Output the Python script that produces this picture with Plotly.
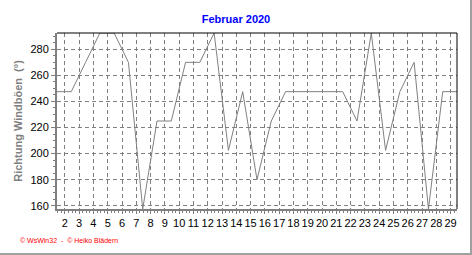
import plotly.graph_objects as go

# ---- data ----
days = list(range(1, 30))
gust_dir = [247.5, 247.5, 270, 292.5, 292.5, 270, 157.5, 225, 225, 270,
            270, 292.5, 202.5, 247.5, 180, 225, 247.5, 247.5, 247.5, 247.5,
            247.5, 225, 292.5, 202.5, 247.5, 270, 157.5, 247.5, 247.5]
tick_days = list(range(2, 30))
tick_labels = [str(d) for d in tick_days]
y_ticks = [160, 180, 200, 220, 240, 260, 280]

FONT = "Liberation Sans, Arial, sans-serif"
GRAY = "#808080"

fig = go.Figure()
fig.add_trace(go.Scatter(
    x=days, y=gust_dir, mode="lines",
    line=dict(color=GRAY, width=1),
    hoverinfo="skip", showlegend=False,
))

fig.update_layout(
    width=472, height=255,
    margin=dict(l=57, r=15, t=33, b=46),
    paper_bgcolor="white", plot_bgcolor="white",
    font=dict(family=FONT, size=11, color="black"),
    title=dict(text="<b>Februar 2020</b>", x=0.5, xref="container",
               y=1 - 19 / 255, yref="container", yanchor="middle", xanchor="center",
               font=dict(family=FONT, size=11, color="#0000ff")),
    showlegend=False,
)

fig.update_xaxes(
    range=[1, 29],
    tickmode="array",
    tickvals=[d - 0.45 for d in tick_days],
    ticktext=tick_labels,
    ticks="outside", ticklen=3, tickcolor=GRAY, tickwidth=1,
    showgrid=True, gridcolor=GRAY, gridwidth=1, griddash="4px,3px",
    showline=True, linecolor=GRAY, linewidth=2,
    zeroline=False,
    tickfont=dict(family=FONT, size=11, color="black"),
    minor=dict(tickmode="linear", tick0=1.55, dtick=0.25, ticks="outside",
               ticklen=2, tickcolor=GRAY, showgrid=False),
)

fig.update_yaxes(
    range=[157.5, 292.5],
    tickmode="array", tickvals=y_ticks,
    ticks="outside", ticklen=4, tickcolor=GRAY, tickwidth=1,
    showgrid=True, gridcolor=GRAY, gridwidth=1, griddash="4px,3px",
    showline=True, linecolor=GRAY, linewidth=2,
    zeroline=False,
    tickfont=dict(family=FONT, size=11, color="black"),
    title=dict(text="<b>Richtung Windböen  (°)</b>", standoff=6,
               font=dict(family=FONT, size=11, color=GRAY)),
    minor=dict(tickmode="linear", tick0=160, dtick=5, ticks="outside",
               ticklen=2, tickcolor=GRAY, showgrid=False),
)

# top / right frame lines (black) and outer border (gray)
fig.add_shape(type="line", xref="paper", yref="paper", x0=0, x1=1, y0=1, y1=1,
              line=dict(color="black", width=1))
fig.add_shape(type="line", xref="paper", yref="paper", x0=1, x1=1, y0=0, y1=1,
              line=dict(color="black", width=1))
fig.add_shape(type="line", xref="paper", yref="paper",
              x0=-57 / 400, x1=(471 - 57) / 400, y0=-(254 - 209) / 176, y1=-(254 - 209) / 176,
              line=dict(color="#a0a0a0", width=2))
fig.add_shape(type="line", xref="paper", yref="paper",
              x0=(471 - 57) / 400, x1=(471 - 57) / 400, y0=-(255 - 209) / 176, y1=(209) / 176,
              line=dict(color="#a0a0a0", width=2))

fig.add_annotation(
    text="© WsWin32  -  © Heiko Blädern",
    xref="paper", yref="paper",
    x=(18 - 57) / 400, y=-(240 - 209) / 176,
    xanchor="left", yanchor="middle", showarrow=False,
    font=dict(family=FONT, size=7, color="#ff0000"),
)

fig.write_html("out.html")
